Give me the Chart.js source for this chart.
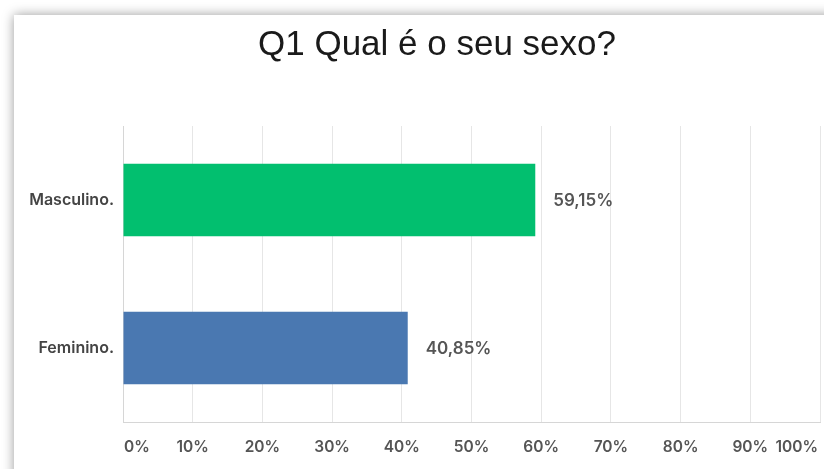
<!DOCTYPE html>
<html>
<head>
<meta charset="utf-8">
<script src="https://cdn.jsdelivr.net/npm/chart.js@4"></script>
<style>
    html, body { margin: 0; padding: 0; background: #fff; overflow: hidden; }
    .card {
        position: absolute; left: 14px; top: 15px; width: 840px; height: 480px;
        background: #fff; box-shadow: 0 0 11px rgba(0, 0, 0, 0.4);
    }
    .wrap { position: absolute; left: 0; top: 0; width: 824px; height: 469px; }
</style>
</head>
<body>
<div class="card"></div>
<div class="wrap"><canvas id="genderChart"></canvas></div>
<script>
const chartTitle = 'Q1 Qual é o seu sexo?';
const categories = ['Masculino.', 'Feminino.'];
const percents = [59.15, 40.85];
const barColors = ['#02bf6f', '#4a78b1'];
const tickValues = [0, 10, 20, 30, 40, 50, 60, 70, 80, 90, 100];

const tickFont = '600 15.5px Inter';

document.addEventListener('DOMContentLoaded', function () {
    // title sits a bit right of the canvas centre in the original
    const titleText = {
        id: 'titleText',
        afterDraw(chart) {
            const ctx = chart.ctx;
            ctx.save();
            ctx.font = '35px "Liberation Sans"';
            ctx.fillStyle = '#1a1a1a';
            ctx.textAlign = 'center';
            ctx.textBaseline = 'middle';
            ctx.fillText(chartTitle, 437, 45);
            ctx.restore();
        }
    };

    // value labels to the right of each bar
    const valueLabels = {
        id: 'valueLabels',
        afterDatasetsDraw(chart) {
            const ctx = chart.ctx;
            const meta = chart.getDatasetMeta(0);
            ctx.save();
            ctx.font = '600 17px Inter';
            ctx.fillStyle = '#555';
            ctx.textAlign = 'left';
            ctx.textBaseline = 'middle';
            meta.data.forEach(function (bar, i) {
                const txt = percents[i].toFixed(2).replace('.', ',') + '%';
                ctx.fillText(txt, bar.x + 18, bar.y + 1);
            });
            ctx.restore();
        }
    };

    // x tick labels, kept inside the plot like the original
    const xTickLabels = {
        id: 'xTickLabels',
        afterDraw(chart) {
            const ctx = chart.ctx;
            const x = chart.scales.x;
            ctx.save();
            ctx.font = tickFont;
            ctx.fillStyle = '#555';
            ctx.textAlign = 'center';
            ctx.textBaseline = 'middle';
            tickValues.forEach(function (v) {
                const txt = v + '%';
                const w = ctx.measureText(txt).width;
                let px = x.getPixelForValue(v);
                px = Math.max(px, x.left + w / 2 + 1);
                px = Math.min(px, x.right - w / 2 - 2);
                ctx.fillText(txt, px, 447);
            });
            ctx.restore();
        }
    };

    const ctx = document.getElementById('genderChart');
    new Chart(ctx, {
        type: 'bar',
        data: {
            labels: categories,
            datasets: [{
                data: percents,
                backgroundColor: barColors,
                categoryPercentage: 1,
                barPercentage: 0.49,
            }]
        },
        options: {
            indexAxis: 'y',
            responsive: true,
            maintainAspectRatio: false,
            animation: false,
            layout: { padding: { top: 126, right: 4, bottom: 0, left: 0 } },
            plugins: {
                legend: { display: false },
                tooltip: { enabled: false },
                title: { display: false }
            },
            scales: {
                x: {
                    min: 0,
                    max: 100,
                    afterBuildTicks: function (s) {
                        s.ticks = tickValues.map(function (v) { return { value: v }; });
                    },
                    afterFit: function (s) { s.height = 47; },
                    ticks: { display: false },
                    grid: { color: '#e6e6e6', drawTicks: false },
                    border: { color: '#d6d6d6' },
                },
                y: {
                    afterFit: function (s) { s.width = 123; },
                    ticks: {
                        color: '#444',
                        font: { family: 'Inter', size: 16, weight: '600' },
                        padding: 9,
                    },
                    grid: { display: false, drawTicks: false },
                    border: { color: '#d6d6d6' },
                }
            }
        },
        plugins: [titleText, valueLabels, xTickLabels]
    });
});
</script>
</body>
</html>
